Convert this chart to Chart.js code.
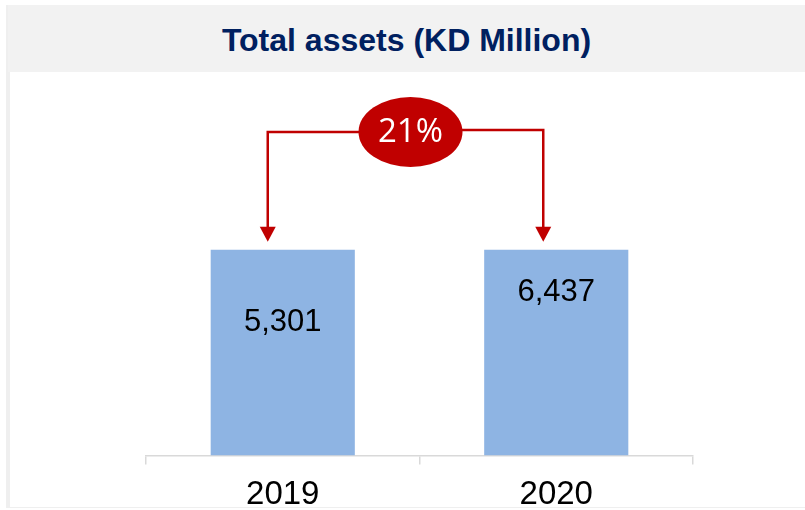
<!DOCTYPE html>
<html>
<head>
<meta charset="utf-8">
<script src="https://cdn.jsdelivr.net/npm/chart.js@4"></script>
<style>
  body { margin: 0; background: #fff; overflow: hidden; }
  #frame { position: absolute; left: 6px; top: 5px; width: 799px; height: 503px;
           border-left: 4px solid #efefef; border-bottom: 1px solid #efefef; box-sizing: border-box; }
  #head { position: absolute; left: 8px; top: 5px; width: 797px; height: 67px; background: #f2f2f2;
          font: bold 32px "Liberation Sans", Arial, sans-serif; color: #002060; text-align: center;
          line-height: 70px; }
  #wrap { position: absolute; left: 0; top: 72px; width: 805px; height: 454px; }
</style>
</head>
<body>
<div id="frame"></div>
<div id="head">Total assets (KD Million)</div>
<div id="wrap"><canvas id="chart"></canvas></div>
<script>
// categories and values
const years = ["2019", "2020"];
const totalAssets = [5301, 6437];
// both bars are drawn at the same height in the source slide
const barLevels = [100, 100];
const growthLabel = "21%";

const red = "#C00000";

// value text inside the bars (2019 sits lower than 2020 in the source)
const valueOffsets = [73, 43];

const valueLabels = {
    id: "valueLabels",
    afterDatasetsDraw(chart) {
        const ctx = chart.ctx;
        const meta = chart.getDatasetMeta(0);
        ctx.save();
        ctx.font = "31px 'Liberation Sans', Arial, sans-serif";
        ctx.fillStyle = "#000";
        ctx.textAlign = "center";
        ctx.textBaseline = "middle";
        meta.data.forEach((bar, i) => {
            ctx.fillText(totalAssets[i].toLocaleString("en-US"), bar.x, bar.y + valueOffsets[i]);
        });
        ctx.restore();
    }
};

const growthArrow = {
    id: "growthArrow",
    afterDraw(chart) {
        const ctx = chart.ctx;
        const meta = chart.getDatasetMeta(0);
        const xl = meta.data[0].x - 15;
        const xr = meta.data[1].x - 13;
        const top = meta.data[0].y;
        const cx = (chart.scales.x.left + chart.scales.x.right) / 2 - 9;
        const cy = 60;
        ctx.save();
        ctx.strokeStyle = red;
        ctx.fillStyle = red;
        ctx.lineWidth = 2.5;
        ctx.beginPath();
        ctx.moveTo(cx, cy);
        ctx.lineTo(xl, cy);
        ctx.lineTo(xl, top - 22);
        ctx.moveTo(cx, cy - 2);
        ctx.lineTo(xr, cy - 2);
        ctx.lineTo(xr, top - 22);
        ctx.stroke();
        [xl, xr].forEach(x => {
            ctx.beginPath();
            ctx.moveTo(x - 8, top - 23);
            ctx.lineTo(x + 8, top - 23);
            ctx.lineTo(x, top - 8);
            ctx.closePath();
            ctx.fill();
        });
        ctx.beginPath();
        ctx.ellipse(cx, cy, 52, 35, 0, 0, Math.PI * 2);
        ctx.fill();
        ctx.fillStyle = "#fff";
        ctx.font = "33px 'Open Sans', 'Noto Sans', sans-serif";
        ctx.textAlign = "center";
        ctx.textBaseline = "middle";
        ctx.fillText(growthLabel, cx, cy + 1);
        ctx.restore();
    }
};

new Chart("chart", {
    type: "bar",
    data: {
        labels: years,
        datasets: [{
            data: barLevels,
            backgroundColor: "#8EB4E3",
            borderWidth: 0,
            barPercentage: 0.527,
            categoryPercentage: 1
        }]
    },
    options: {
        responsive: true,
        maintainAspectRatio: false,
        animation: false,
        layout: { padding: { left: 146, right: 112, top: 0, bottom: 0 } },
        plugins: {
            legend: { display: false },
            tooltip: { enabled: false }
        },
        scales: {
            x: {
                grid: { display: true, drawOnChartArea: false, offset: true, color: "#d9d9d9", tickLength: 9, lineWidth: 1.5 },
                border: { display: true, color: "#d9d9d9", width: 1.5 },
                ticks: { color: "#000", font: { family: "'Liberation Sans', Arial, sans-serif", size: 33 }, padding: 11 }
            },
            y: {
                display: false,
                min: 0,
                max: 186.4
            }
        }
    },
    plugins: [valueLabels, growthArrow]
});
</script>
</body>
</html>
